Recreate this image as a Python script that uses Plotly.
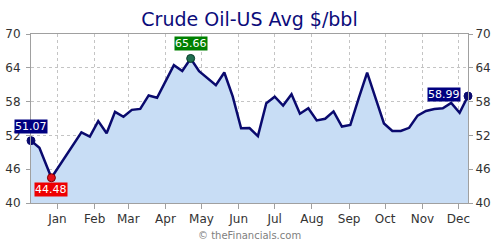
import plotly.graph_objects as go

title_text = "Crude Oil-US Avg $/bbl"
footer_text = "© theFinancials.com"

dates = [
    "2018-12-10", "2018-12-17", "2018-12-27", "2019-01-07", "2019-01-14",
    "2019-01-21", "2019-01-28", "2019-02-04", "2019-02-11", "2019-02-18",
    "2019-02-25", "2019-03-04", "2019-03-11", "2019-03-18", "2019-03-25",
    "2019-04-01", "2019-04-08", "2019-04-15", "2019-04-22", "2019-04-29",
    "2019-05-06", "2019-05-13", "2019-05-20", "2019-05-27", "2019-06-03",
    "2019-06-10", "2019-06-17", "2019-06-24", "2019-07-01", "2019-07-08",
    "2019-07-15", "2019-07-22", "2019-07-29", "2019-08-05", "2019-08-12",
    "2019-08-19", "2019-08-26", "2019-09-02", "2019-09-09", "2019-09-16",
    "2019-09-23", "2019-09-30", "2019-10-07", "2019-10-14", "2019-10-21",
    "2019-10-28", "2019-11-04", "2019-11-11", "2019-11-18", "2019-11-25",
    "2019-12-02", "2019-12-09",
]
prices = [
    51.07, 49.80, 44.48, 48.00, 50.20,
    52.55, 51.80, 54.55, 52.37, 56.17,
    55.31, 56.53, 56.70, 59.09, 58.68,
    61.50, 64.46, 63.43, 65.66, 63.40,
    62.18, 60.93, 63.16, 58.93, 53.26,
    53.30, 51.87, 57.72, 58.88, 57.31,
    59.29, 55.85, 56.83, 54.65, 54.96,
    56.26, 53.58, 53.85, 58.60, 63.16,
    58.60, 54.12, 52.78, 52.78, 53.35,
    55.51, 56.33, 56.69, 56.83, 57.76,
    56.03, 58.99,
]
y_ticks = [40, 46, 52, 58, 64, 70]

NAVY = "#0a0a6e"
TXT = "#333333"
GRID = "#c4c4c4"
AXIS = "#a0a0a0"
FONT = "DejaVu Sans"

i_min = prices.index(min(prices))
i_max = prices.index(max(prices))
i_first = 0
i_last = len(prices) - 1

fig = go.Figure()
fig.add_trace(go.Scatter(
    x=dates, y=prices, mode="lines",
    line=dict(color=NAVY, width=2.5),
    fill="tozeroy", fillcolor="#c8ddf5",
    hoverinfo="skip", showlegend=False,
))
# invisible trace to drive the right-hand axis
fig.add_trace(go.Scatter(
    x=dates, y=prices, mode="lines", yaxis="y2",
    line=dict(color="rgba(0,0,0,0)", width=0),
    hoverinfo="skip", showlegend=False,
))
# highlighted points
marks = [
    (i_first, NAVY, NAVY),
    (i_min, "#e8101a", "#7a0000"),
    (i_max, "#1f6f4f", "#0a3a2a"),
    (i_last, NAVY, NAVY),
]
fig.add_trace(go.Scatter(
    x=[dates[i] for i, _, _ in marks],
    y=[prices[i] for i, _, _ in marks],
    mode="markers",
    marker=dict(size=8, color=[c for _, c, _ in marks],
                line=dict(color=[b for _, _, b in marks], width=1)),
    hoverinfo="skip", showlegend=False, cliponaxis=False,
))

labels = [
    (i_first, "#000080", 0, 14, "center"),
    (i_min, "#ee0000", 0, -12, "center"),
    (i_max, "#008000", 0, 15, "center"),
    (i_last, "#000080", -7, 2, "right"),
]
for i, bg, xs, ys, xa in labels:
    fig.add_annotation(
        x=dates[i], y=prices[i], text=f"{prices[i]:.2f}",
        showarrow=False, xanchor=xa, yanchor="middle",
        xshift=xs, yshift=ys, bgcolor=bg, borderpad=0,
        font=dict(family=FONT, size=11, color="white"),
    )

fig.add_annotation(
    xref="paper", yref="paper", x=0.5, y=-0.195,
    xanchor="center", yanchor="middle", showarrow=False,
    text=footer_text, font=dict(family=FONT, size=10, color="#808080"),
)

axis_common = dict(
    range=[40, 70], tickvals=y_ticks, ticks="outside", ticklen=4,
    tickcolor=AXIS, tickfont=dict(family=FONT, size=12, color=TXT),
    showline=True, linecolor=AXIS, linewidth=1, zeroline=False,
    automargin=False,
)

fig.update_layout(
    width=500, height=250,
    margin=dict(l=31, r=32, t=34, b=47),
    paper_bgcolor="white", plot_bgcolor="white",
    title=dict(text=title_text, x=0.5, xref="paper", xanchor="center",
               y=1 - 19 / 250, yref="container", yanchor="middle",
               font=dict(family=FONT, size=19, color="#0b0b7a")),
    xaxis=dict(
        type="date", range=[dates[0], dates[-1]],
        tick0="2019-01-01", dtick="M1", tickformat="%b",
        ticks="outside", ticklen=5, tickcolor=AXIS,
        tickfont=dict(family=FONT, size=12, color=TXT),
        showgrid=True, gridcolor=GRID, griddash="dot", gridwidth=1,
        showline=True, linecolor=AXIS, linewidth=1, mirror=True,
        zeroline=False, automargin=False,
    ),
    yaxis=dict(side="left", showgrid=True, gridcolor=GRID, griddash="dot",
               gridwidth=1, mirror=True, ticklabelstandoff=3, **axis_common),
    yaxis2=dict(side="right", overlaying="y", showgrid=False, **axis_common),
)

fig.write_html("out.html")
